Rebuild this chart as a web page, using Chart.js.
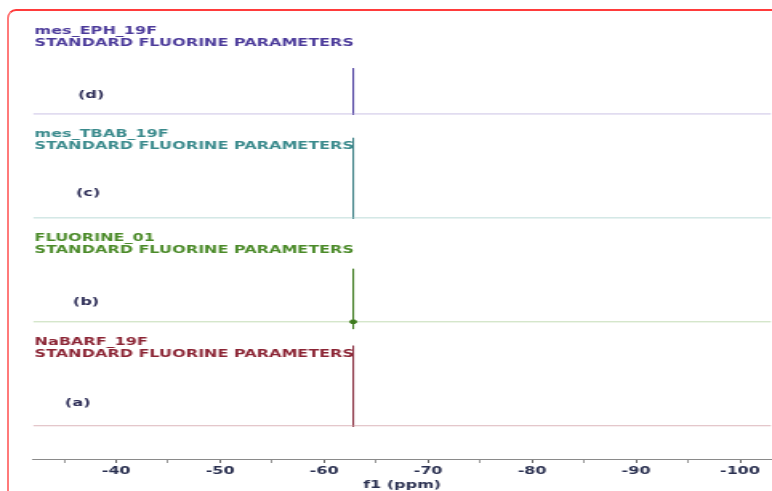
<!DOCTYPE html>
<html>
<head>
  <meta charset="UTF-8">
  <title>19F NMR spectra</title>
  <script src="https://cdn.jsdelivr.net/npm/chart.js"></script>
  <style>
    html, body { margin: 0; padding: 0; background: #fff; overflow: hidden; }
    #frame {
      position: absolute; left: 7px; top: 9px; width: 800px; height: 520px;
      border: 2px solid #ff3b3b; border-left-color: #ff7a7a; border-radius: 9px;
    }
    /* the source picture is stretched sideways, so the chart is drawn narrow and widened */
    #wrap {
      position: absolute; left: 0; top: 0; width: 482px; height: 491px;
      transform: scaleX(1.6017); transform-origin: 0 0;
    }
  </style>
</head>
<body>
  <div id="frame"></div>
  <div id="wrap"><canvas id="nmr"></canvas></div>

  <script>
    // bottom to top: (a) .. (d)
    const samples = ['NaBARF_19F', 'FLUORINE_01', 'mes_TBAB_19F', 'mes_EPH_19F'];
    const subtitle = 'STANDARD FLUORINE PARAMETERS';
    const tags = ['(a)', '(b)', '(c)', '(d)'];
    const peakShift = [-62.8, -62.8, -62.8, -62.8];   // ppm
    const peakHeight = [0.77, 0.51, 0.77, 0.44];      // relative to trace spacing
    const peakDip = [0.01, 0.07, 0.01, 0.01];
    const xTicks = [-35, -40, -45, -50, -55, -60, -65, -70, -75, -80, -85, -90, -95, -100];
    const ppmMin = -103, ppmMax = -32;

    // look
    const textColors = ['#8b2434', '#4a8a28', '#3a8a8c', '#4b3a9a'];
    const peakColors = ['#8a3040', '#3d7a1e', '#3b7f85', '#5040a0'];
    const baseColors = ['#dcb6bb', '#c3dcb6', '#bcdcd8', '#cbc2e6'];
    const tagColor = '#2b2b55';
    const tagAt = [-36.3, -37.1, -37.3, -37.6];   // ppm position of (a)..(d)
    const tagDy = [-22, -19, -24, -19];
    const FONT = '"DejaVu Sans", Verdana, sans-serif';

    const datasets = samples.map((name, i) => {
      const b = i, p = peakShift[i];
      return {
        label: name,
        data: [
          { x: ppmMax, y: b },
          { x: p, y: b },
          { x: p, y: b + peakHeight[i] },
          { x: p, y: b - peakDip[i] },
          { x: p, y: b },
          { x: ppmMin, y: b }
        ],
        borderWidth: 1,
        borderColor: peakColors[i],
        backgroundColor: peakColors[i],
        segment: {
          borderColor: ctx => (ctx.p0DataIndex >= 1 && ctx.p0DataIndex <= 3) ? peakColors[i] : baseColors[i]
        },
        pointRadius: ctx => (i === 1 && ctx.dataIndex === 4) ? 2 : 0,
        tension: 0
      };
    });

    const textPlugin = {
      id: 'spectrumText',
      beforeDatasetsDraw(chart) {
        const { ctx, chartArea, scales: { x, y } } = chart;
        ctx.save();
        ctx.font = 'bold 10px ' + FONT;
        ctx.textBaseline = 'middle';
        samples.forEach((name, i) => {
          const yb = y.getPixelForValue(i);
          ctx.fillStyle = textColors[i];
          ctx.textAlign = 'left';
          ctx.fillText(name, chartArea.left + 1, yb - 83);
          ctx.fillText(subtitle, chartArea.left + 1, yb - 71);
          ctx.fillStyle = tagColor;
          ctx.textAlign = 'center';
          ctx.fillText(tags[i], x.getPixelForValue(tagAt[i]), yb + tagDy[i]);
        });
        ctx.restore();
      }
    };

    new Chart(document.getElementById('nmr'), {
      type: 'line',
      data: { datasets },
      plugins: [textPlugin],
      options: {
        responsive: true,
        maintainAspectRatio: false,
        animation: false,
        parsing: false,
        layout: { padding: { left: 20.6, right: 0, top: 10, bottom: 0 } },
        plugins: { legend: { display: false }, tooltip: { enabled: false } },
        scales: {
          x: {
            type: 'linear',
            reverse: true,
            min: ppmMin,
            max: ppmMax,
            afterBuildTicks: axis => {
              axis.ticks = xTicks.map(v => ({ value: v }));
            },
            ticks: {
              autoSkip: false,
              maxRotation: 0,
              padding: 2,
              color: '#2a3050',
              font: { family: FONT, size: 10, weight: 'bold' },
              callback: v => (v % 10 === 0 ? v : '')
            },
            grid: {
              drawOnChartArea: false,
              drawTicks: true,
              tickLength: 4,
              color: ctx => (ctx.tick && ctx.tick.value % 10 === 0) ? '#666' : '#999'
            },
            border: { display: true, color: '#8a8a8a', width: 1 },
            title: {
              display: true,
              text: 'f1 (ppm)',
              color: '#2a3050',
              font: { family: FONT, size: 10, weight: 'bold' },
              padding: { top: 0, bottom: 0 }
            }
          },
          y: {
            display: false,
            min: -0.32,
            max: 4.0
          }
        }
      }
    });
  </script>
</body>
</html>
